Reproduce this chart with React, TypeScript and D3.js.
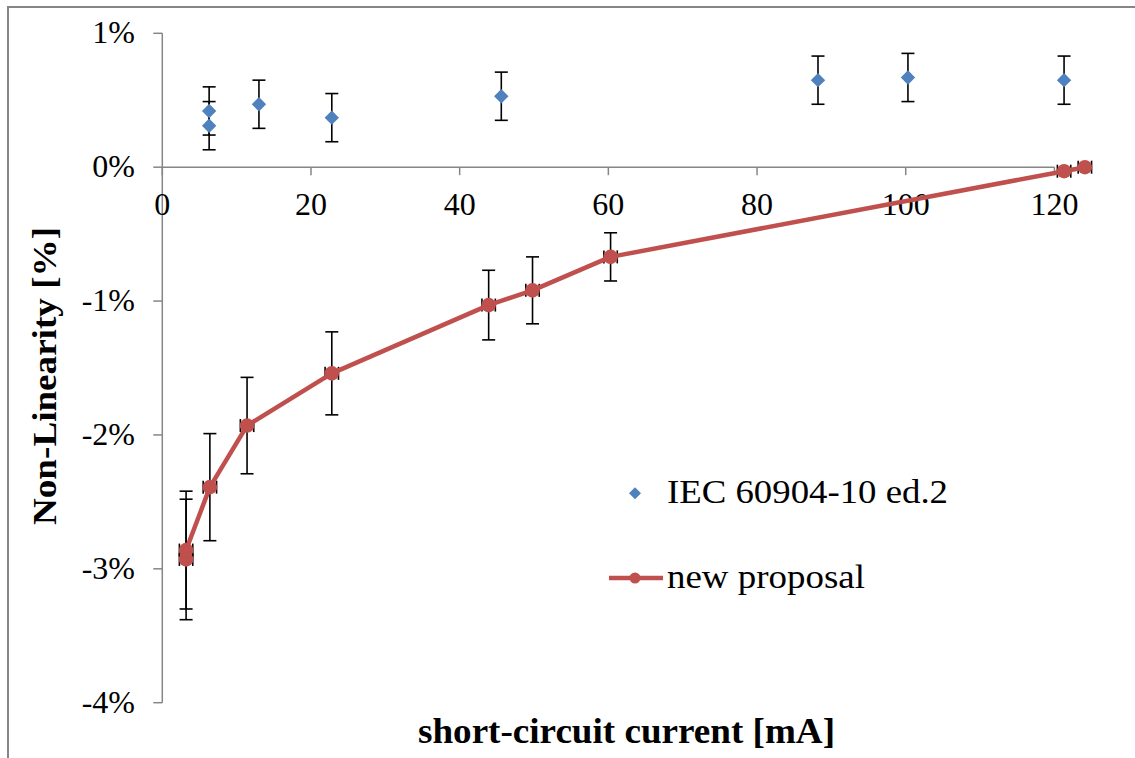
import React from "react";
import * as d3 from "d3";

// IEC 60904-10 ed.2 (blue diamonds)
const iecCurrent = [6.3, 6.3, 13.0, 22.8, 45.6, 88.2, 100.3, 121.3];
const iecNonLin = [0.42, 0.31, 0.47, 0.37, 0.53, 0.65, 0.67, 0.65];
const iecErr = [0.18, 0.18, 0.18, 0.18, 0.18, 0.18, 0.18, 0.18];

// new proposal (red line + circles)
const newCurrent = [3.2, 3.2, 6.4, 11.4, 22.8, 43.9, 49.8, 60.3, 121.3, 124.1];
const newNonLin = [-2.93, -2.86, -2.39, -1.93, -1.54, -1.03, -0.92, -0.67, -0.03, 0.0];
const newErr = [0.45, 0.44, 0.4, 0.36, 0.31, 0.26, 0.25, 0.18, 0.02, 0.0];
const newCurrentErr = [0.9, 0.9, 0.9, 0.9, 0.9, 0.9, 0.9, 0.9, 0.9, 0.9];

const xTicks = [0, 20, 40, 60, 80, 100, 120];
const yTicks = [1, 0, -1, -2, -3, -4];

const seriesNames = ["IEC 60904-10 ed.2", "new proposal"];

export default function App() {
  const ref = React.useRef<SVGSVGElement>(null);

  React.useEffect(() => {
    const width = 1135;
    const height = 758;
    const blue = "#4F81BD";
    const red = "#C0504D";
    const gray = "#868686";
    const font = "'Liberation Serif', 'Times New Roman', serif";

    const svg = d3.select(ref.current);
    svg.selectAll("*").remove();
    svg.attr("width", width).attr("height", height);

    svg.append("rect").attr("width", width).attr("height", height).attr("fill", "#fff");

    // chart frame (only top and left edge visible)
    svg
      .append("path")
      .attr("d", `M8,${height} L8,7 L${width},7`)
      .attr("fill", "none")
      .attr("stroke", gray)
      .attr("stroke-width", 2);

    const x = d3.scaleLinear().domain([0, 120]).range([162.3, 1054.4]);
    const y = d3.scaleLinear().domain([-4, 1]).range([702.7, 33.3]);

    // axes
    const axes = svg.append("g").attr("stroke", gray).attr("stroke-width", 1.5);
    axes
      .append("line")
      .attr("x1", x(0))
      .attr("x2", x(0))
      .attr("y1", y(1))
      .attr("y2", y(-4));
    axes
      .append("line")
      .attr("x1", x(0))
      .attr("x2", x(120))
      .attr("y1", y(0))
      .attr("y2", y(0));
    axes
      .selectAll(".ytick")
      .data(yTicks)
      .join("line")
      .attr("x1", x(0) - 9)
      .attr("x2", x(0))
      .attr("y1", (d) => y(d))
      .attr("y2", (d) => y(d));
    axes
      .selectAll(".xtick")
      .data(xTicks)
      .join("line")
      .attr("x1", (d) => x(d))
      .attr("x2", (d) => x(d))
      .attr("y1", y(0))
      .attr("y2", y(0) + 8);

    svg
      .append("g")
      .selectAll("text")
      .data(yTicks)
      .join("text")
      .attr("x", 135)
      .attr("y", (d) => y(d) + 10)
      .attr("text-anchor", "end")
      .attr("font-family", font)
      .attr("font-size", 32)
      .text((d) => `${d}%`);

    svg
      .append("g")
      .selectAll("text")
      .data(xTicks)
      .join("text")
      .attr("x", (d) => x(d))
      .attr("y", 215)
      .attr("text-anchor", "middle")
      .attr("font-family", font)
      .attr("font-size", 32)
      .text((d) => d);

    // axis titles
    svg
      .append("text")
      .attr("x", 626.5)
      .attr("y", 743)
      .attr("text-anchor", "middle")
      .attr("font-family", font)
      .attr("font-weight", "bold")
      .attr("font-size", 36)
      .attr("textLength", 417)
      .attr("lengthAdjust", "spacingAndGlyphs")
      .text("short-circuit  current  [mA]");

    svg
      .append("text")
      .attr("transform", "translate(56,376) rotate(-90)")
      .attr("text-anchor", "middle")
      .attr("font-family", font)
      .attr("font-weight", "bold")
      .attr("font-size", 34)
      .attr("textLength", 298)
      .attr("lengthAdjust", "spacingAndGlyphs")
      .text("Non-Linearity  [%]");

    const capW = 6.5;
    const errG = svg.append("g").attr("stroke", "#000").attr("stroke-width", 1.6);

    const iec = iecCurrent.map((c, i) => ({ c, v: iecNonLin[i], e: iecErr[i] }));
    const prop = newCurrent.map((c, i) => ({
      c,
      v: newNonLin[i],
      e: newErr[i],
      ex: newCurrentErr[i],
    }));

    // error bars
    const drawYErr = (data: { c: number; v: number; e: number }[]) => {
      data.forEach((d) => {
        if (d.e <= 0) return;
        const cx = x(d.c);
        const y1 = y(d.v + d.e);
        const y2 = y(d.v - d.e);
        errG.append("line").attr("x1", cx).attr("x2", cx).attr("y1", y1).attr("y2", y2);
        errG.append("line").attr("x1", cx - capW).attr("x2", cx + capW).attr("y1", y1).attr("y2", y1);
        errG.append("line").attr("x1", cx - capW).attr("x2", cx + capW).attr("y1", y2).attr("y2", y2);
      });
    };
    drawYErr(iec);
    drawYErr(prop);
    prop.forEach((d) => {
      const cy = y(d.v);
      const x1 = x(d.c - d.ex);
      const x2 = x(d.c + d.ex);
      errG.append("line").attr("x1", x1).attr("x2", x2).attr("y1", cy).attr("y2", cy);
      errG.append("line").attr("x1", x1).attr("x2", x1).attr("y1", cy - capW).attr("y2", cy + capW);
      errG.append("line").attr("x1", x2).attr("x2", x2).attr("y1", cy - capW).attr("y2", cy + capW);
    });

    // new proposal line + markers
    const line = d3
      .line<{ c: number; v: number }>()
      .x((d) => x(d.c))
      .y((d) => y(d.v));
    svg
      .append("path")
      .datum(prop)
      .attr("d", line)
      .attr("fill", "none")
      .attr("stroke", red)
      .attr("stroke-width", 4.5)
      .attr("stroke-linejoin", "round");
    svg
      .append("g")
      .selectAll("circle")
      .data(prop)
      .join("circle")
      .attr("cx", (d) => x(d.c))
      .attr("cy", (d) => y(d.v))
      .attr("r", 7.3)
      .attr("fill", red);

    // IEC diamonds
    const diamond = (cx: number, cy: number, r: number) =>
      `M${cx},${cy - r} L${cx + r},${cy} L${cx},${cy + r} L${cx - r},${cy} Z`;
    svg
      .append("g")
      .selectAll("path")
      .data(iec)
      .join("path")
      .attr("d", (d) => diamond(x(d.c), y(d.v), 7.2))
      .attr("fill", blue);

    // legend
    const legend = svg.append("g").attr("font-family", font).attr("font-size", 34);
    legend.append("path").attr("d", diamond(635, 493.3, 6)).attr("fill", blue);
    legend
      .append("text")
      .attr("x", 667)
      .attr("y", 503.3)
      .attr("textLength", 281)
      .attr("lengthAdjust", "spacingAndGlyphs")
      .text(seriesNames[0]);
    legend
      .append("line")
      .attr("x1", 609)
      .attr("x2", 663)
      .attr("y1", 578)
      .attr("y2", 578)
      .attr("stroke", red)
      .attr("stroke-width", 4.5);
    legend.append("circle").attr("cx", 635).attr("cy", 578).attr("r", 5.5).attr("fill", red);
    legend
      .append("text")
      .attr("x", 667)
      .attr("y", 588.3)
      .attr("textLength", 198)
      .attr("lengthAdjust", "spacingAndGlyphs")
      .text(seriesNames[1]);
  }, []);

  return (
    <div style={{ position: "absolute", left: 0, top: 0 }}>
      <svg ref={ref} style={{ display: "block" }} />
    </div>
  );
}
